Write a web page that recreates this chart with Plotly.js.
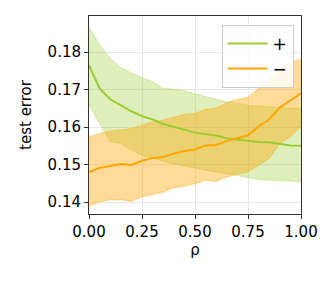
<!DOCTYPE html>
<html>
<head>
<meta charset="utf-8">
<script src="https://cdn.plot.ly/plotly-3.0.1.min.js"></script>
<style>
html,body{margin:0;padding:0;background:#fff;}
#chart{width:332px;height:284px;}
</style>
</head>
<body>
<div id="chart"></div>
<script>
// rho values
const rho = [0,0.05,0.1,0.15,0.2,0.25,0.3,0.35,0.4,0.45,0.5,0.55,0.6,0.65,0.7,0.75,0.8,0.85,0.9,0.95,1.0];

// "+" series
const plusMean  = [0.1765,0.1703,0.1674,0.1658,0.1642,0.1629,0.1620,0.1608,0.1601,0.1592,0.1585,0.1581,0.1577,0.1570,0.1567,0.1563,0.1560,0.1559,0.1556,0.1551,0.1550];
const plusUpper = [0.1866,0.1819,0.1783,0.1758,0.1745,0.1731,0.1721,0.1703,0.1701,0.1697,0.1688,0.1681,0.1674,0.1667,0.1663,0.1658,0.1656,0.1654,0.1654,0.1650,0.1651];
const plusLower = [0.1660,0.1609,0.1560,0.1556,0.1538,0.1525,0.1516,0.1509,0.1502,0.1496,0.1489,0.1485,0.1480,0.1476,0.1471,0.1465,0.1460,0.1458,0.1458,0.1456,0.1454];

// "−" series
const minusMean  = [0.1480,0.1491,0.1496,0.1501,0.1499,0.1510,0.1517,0.1520,0.1529,0.1536,0.1540,0.1551,0.1552,0.1563,0.1570,0.1578,0.1602,0.1620,0.1652,0.1670,0.1690];
const minusUpper = [0.1574,0.1583,0.1589,0.1593,0.1596,0.1605,0.1614,0.1618,0.1627,0.1634,0.1636,0.1647,0.1650,0.1665,0.1674,0.1679,0.1703,0.1725,0.1752,0.1774,0.1780];
const minusLower = [0.1389,0.1400,0.1406,0.1406,0.1402,0.1414,0.1420,0.1427,0.1438,0.1442,0.1449,0.1458,0.1455,0.1467,0.1474,0.1480,0.1498,0.1516,0.1556,0.1574,0.1601];

const green = "#9acd32";
const orange = "#ffa500";

function band(lower, upper, rgb, a){
    return [
        {x: rho, y: lower, mode: "lines", line: {color: "rgba("+rgb+","+a+")", width: 1}, showlegend: false, hoverinfo: "skip"},
        {x: rho, y: upper, mode: "lines", fill: "tonexty", fillcolor: "rgba("+rgb+","+a+")", line: {color: "rgba("+rgb+","+a+")", width: 1}, showlegend: false, hoverinfo: "skip"}
    ];
}

const traces = [].concat(
    band(plusLower, plusUpper, "154,205,50", 0.33),
    band(minusLower, minusUpper, "255,165,0", 0.4),
    [
        {x: rho, y: plusMean, mode: "lines", name: "+", line: {color: green, width: 2}},
        {x: rho, y: minusMean, mode: "lines", name: "\u2212", line: {color: orange, width: 2}}
    ]
);

const font = {family: "DejaVu Sans", size: 15, color: "#000"};

const layout = {
    width: 332, height: 284,
    margin: {l: 89, r: 31, t: 16, b: 70},
    paper_bgcolor: "#fff", plot_bgcolor: "#fff",
    font: font,
    showlegend: true,
    legend: {
        x: 0.965, y: 0.955, xanchor: "right", yanchor: "top",
        traceorder: "normal", itemwidth: 40,
        bgcolor: "rgba(255,255,255,0.8)", bordercolor: "#cccccc", borderwidth: 1,
        font: {family: "DejaVu Sans", size: 17, color: "#000"},
        tracegroupgap: 0
    },
    xaxis: {
        range: [0, 1], tickvals: [0, 0.25, 0.5, 0.75, 1], tickformat: ".2f",
        showgrid: true, gridcolor: "#e8e8e8", zeroline: false,
        showline: true, linecolor: "#333", linewidth: 1, mirror: true,
        ticks: "outside", ticklen: 4, tickcolor: "#333",
        title: {text: "\u03c1", font: font, standoff: 3}
    },
    yaxis: {
        range: [0.1368, 0.1896], tickvals: [0.14, 0.15, 0.16, 0.17, 0.18], tickformat: ".2f",
        showgrid: true, gridcolor: "#e8e8e8", zeroline: false,
        showline: true, linecolor: "#333", linewidth: 1, mirror: true,
        ticks: "outside", ticklen: 4, tickcolor: "#333",
        title: {text: "test error", font: font, standoff: 12}
    }
};

Plotly.newPlot("chart", traces, layout, {displayModeBar: false, staticPlot: true});
</script>
</body>
</html>
